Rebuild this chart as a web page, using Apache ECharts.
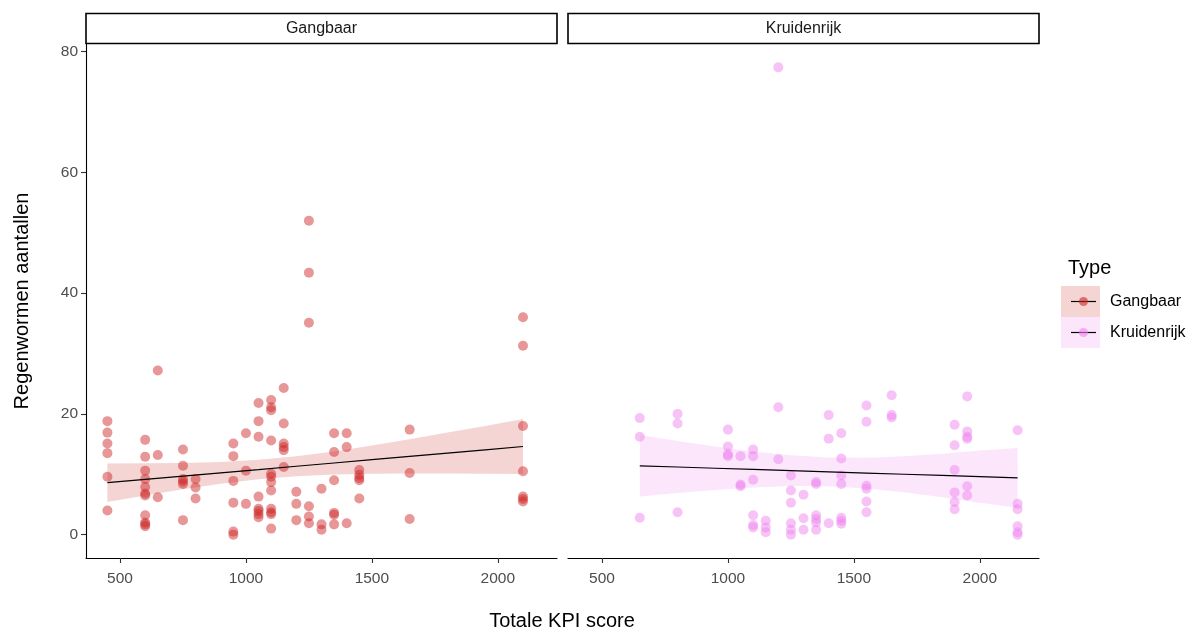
<!DOCTYPE html>
<html>
<head>
<meta charset="utf-8">
<script src="https://cdn.jsdelivr.net/npm/echarts@6/dist/echarts.min.js"></script>
<style>html,body{margin:0;padding:0;background:#fff}#c{width:1196px;height:633px}</style>
</head>
<body>
<div id="c"></div>
<script>
// ---- data ----
const xTicks = [500, 1000, 1500, 2000];
const yTicks = [0, 20, 40, 60, 80];
const panels = ['Gangbaar', 'Kruidenrijk'];

const gangbaarKPI = [450, 600, 650, 750, 800, 950, 1000, 1050, 1100, 1150, 1200, 1250, 1300, 1350, 1400, 1450, 1650, 2100];
const gangbaarCounts = [
  [18.8, 16.9, 15.1, 13.5, 9.6, 4.0],
  [15.7, 12.9, 10.6, 9.2, 7.9, 6.8, 6.5, 3.2, 2.0, 1.7, 1.4],
  [27.2, 13.2, 6.2],
  [14.1, 11.4, 9.2, 8.8, 8.4, 2.4],
  [9.2, 7.8, 6.0],
  [15.1, 13.0, 8.9, 5.3, 0.5, 0.0],
  [16.8, 10.6, 5.1],
  [21.8, 18.8, 16.2, 6.3, 4.3, 3.9, 3.4, 2.9],
  [22.3, 21.1, 20.6, 15.6, 10.1, 9.6, 8.7, 7.3, 4.3, 3.7, 3.4, 1.0],
  [24.3, 18.4, 15.1, 14.5, 14.0, 11.2],
  [7.1, 5.1, 2.4],
  [52.0, 43.4, 35.1, 4.7, 3.0, 1.9],
  [7.6, 1.7, 0.8],
  [16.8, 13.7, 9.0, 3.6, 3.3, 1.7],
  [16.8, 14.5, 1.9],
  [10.7, 9.9, 9.4, 9.0, 6.0],
  [17.4, 10.2, 2.6],
  [36.0, 31.3, 18.0, 10.5, 6.3, 5.9, 5.5]
];

const kruidenrijkKPI = [650, 800, 1000, 1050, 1100, 1150, 1200, 1250, 1300, 1350, 1400, 1450, 1550, 1650, 1900, 1950, 2150];
const kruidenrijkCounts = [
  [19.3, 16.2, 2.8],
  [20.0, 18.4, 3.7],
  [17.4, 14.6, 13.3, 13.0],
  [13.0, 8.3, 8.0],
  [14.1, 13.0, 9.1, 3.2, 1.6, 1.2],
  [2.3, 1.2, 0.4],
  [77.4, 21.1, 12.5],
  [9.8, 7.3, 5.3, 1.9, 0.8, 0.0],
  [6.6, 2.7, 0.8],
  [8.7, 8.4, 3.2, 2.6, 2.0, 0.8],
  [19.8, 15.9, 1.9],
  [16.8, 12.6, 9.8, 8.4, 2.8, 2.3, 1.8],
  [21.4, 18.7, 8.1, 7.6, 5.5, 3.7],
  [23.1, 19.8, 19.4],
  [18.2, 14.8, 10.7, 7.0, 5.4, 4.2],
  [22.9, 17.1, 16.2, 15.9, 8.0, 6.5],
  [17.3, 5.1, 4.2, 1.4, 0.4, 0.0]
];

// linear fit and confidence band
const gangbaarFitX  = [450, 600, 750, 900, 1050, 1200, 1350, 1500, 1650, 1800, 1950, 2100];
const gangbaarFit   = [8.6, 9.15, 9.69, 10.24, 10.78, 11.33, 11.87, 12.42, 12.96, 13.51, 14.05, 14.6];
const gangbaarLower = [5.4, 6.48, 7.5, 8.43, 9.17, 9.67, 9.95, 10.08, 10.12, 10.12, 10.09, 10.05];
const gangbaarUpper = [11.8, 11.82, 11.88, 12.05, 12.39, 12.99, 13.79, 14.76, 15.8, 16.9, 18.01, 19.15];

const kruidenrijkFitX  = [650, 800, 950, 1100, 1250, 1400, 1550, 1700, 1850, 2000, 2150];
const kruidenrijkFit   = [11.4, 11.2, 11.0, 10.8, 10.6, 10.4, 10.2, 10.0, 9.8, 9.6, 9.4];
const kruidenrijkLower = [6.3, 6.88, 7.39, 7.81, 8.05, 8.01, 7.65, 7.01, 6.19, 5.28, 4.45];
const kruidenrijkUpper = [16.5, 15.52, 14.61, 13.79, 13.15, 12.79, 12.75, 12.99, 13.41, 13.92, 14.35];

// ---- styling ----
const FONT = "'Liberation Sans', Arial, sans-serif";
const colors = {
  Gangbaar:   {pt: 'rgba(205,38,38,0.6)',  band: 'rgba(205,38,38,0.2)'},
  Kruidenrijk:{pt: 'rgba(238,130,238,0.6)', band: 'rgba(238,130,238,0.2)'}
};
const X_MIN = 365, X_MAX = 2235, Y_MIN = -3.87, Y_MAX = 81.27;
const G = [{left: 86, top: 44, width: 471, height: 514}, {left: 568, top: 44, width: 471, height: 514}];

function pts(xs, ys) {
  const out = [];
  xs.forEach((x, i) => ys[i].forEach(v => out.push([x, v])));
  return out;
}
function pairs(xs, ys) { return xs.map((x, i) => [x, ys[i]]); }

const groups = [
  {name: 'Gangbaar', kpi: gangbaarKPI, counts: gangbaarCounts, fx: gangbaarFitX, fit: gangbaarFit, lo: gangbaarLower, hi: gangbaarUpper},
  {name: 'Kruidenrijk', kpi: kruidenrijkKPI, counts: kruidenrijkCounts, fx: kruidenrijkFitX, fit: kruidenrijkFit, lo: kruidenrijkLower, hi: kruidenrijkUpper}
];

const series = [];
groups.forEach((g, i) => {
  const c = colors[g.name];
  // confidence band as a polygon through the axis scales
  series.push({
    type: 'custom', xAxisIndex: i, yAxisIndex: i, silent: true, z: 1,
    data: [[g.fx[0], g.lo[0]]],
    renderItem: function (params, api) {
      const top = g.fx.map((x, k) => api.coord([x, g.hi[k]]));
      const bot = g.fx.map((x, k) => api.coord([x, g.lo[k]])).reverse();
      return {type: 'polygon', shape: {points: top.concat(bot)}, style: {fill: c.band, stroke: null}};
    }
  });
  series.push({
    type: 'scatter', xAxisIndex: i, yAxisIndex: i, name: g.name,
    data: pts(g.kpi, g.counts), symbolSize: 10,
    itemStyle: {color: c.pt, borderWidth: 0}, z: 2
  });
  series.push({
    type: 'line', xAxisIndex: i, yAxisIndex: i, silent: true,
    data: pairs(g.fx, g.fit), symbol: 'none',
    lineStyle: {color: '#000', width: 1.2}, z: 3
  });
});

const xAxes = [0, 1].map(i => ({
  type: 'value', gridIndex: i, min: X_MIN, max: X_MAX,
  axisLine: {show: true, onZero: false, lineStyle: {color: '#000', width: 1.1}},
  axisTick: {show: true, length: 5, customValues: xTicks, lineStyle: {color: '#333', width: 1.1}},
  axisLabel: {customValues: xTicks, formatter: v => String(v), color: '#4d4d4d', fontSize: 15.5, fontFamily: FONT, margin: 13},
  splitLine: {show: false}
}));
const yAxes = [0, 1].map(i => ({
  type: 'value', gridIndex: i, min: Y_MIN, max: Y_MAX,
  axisLine: {show: i === 0, onZero: false, lineStyle: {color: '#000', width: 1.1}},
  axisTick: {show: i === 0, length: 5, customValues: yTicks, lineStyle: {color: '#333', width: 1.1}},
  axisLabel: {show: i === 0, customValues: yTicks, formatter: v => String(v), color: '#4d4d4d', fontSize: 15.5, fontFamily: FONT, margin: 8},
  splitLine: {show: false}
}));

const graphic = [];
G.forEach((g, i) => {
  graphic.push({type: 'rect', shape: {x: g.left, y: 13.5, width: g.width, height: 30},
    style: {fill: '#fff', stroke: '#000', lineWidth: 1.6}, z: 10});
  graphic.push({type: 'text', x: g.left + g.width / 2, y: 29,
    style: {text: panels[i], font: "16px " + FONT, fill: '#1a1a1a', textAlign: 'center', textVerticalAlign: 'middle'}, z: 11});
});
graphic.push({type: 'text', x: 562, y: 621,
  style: {text: 'Totale KPI score', font: "20px " + FONT, fill: '#000', textAlign: 'center', textVerticalAlign: 'middle'}});
graphic.push({type: 'text', x: 22, y: 301, rotation: Math.PI / 2,
  style: {text: 'Regenwormen aantallen', font: "20px " + FONT, fill: '#000', textAlign: 'center', textVerticalAlign: 'middle'}});
graphic.push({type: 'text', x: 1068, y: 268,
  style: {text: 'Type', font: "20px " + FONT, fill: '#000', textAlign: 'left', textVerticalAlign: 'middle'}});
panels.forEach((p, i) => {
  const y0 = 286 + i * 31;
  graphic.push({type: 'rect', shape: {x: 1061, y: y0, width: 39, height: 31}, style: {fill: colors[p].band}});
  graphic.push({type: 'line', shape: {x1: 1071, y1: y0 + 15.5, x2: 1096, y2: y0 + 15.5}, style: {stroke: '#000', lineWidth: 1.2}});
  graphic.push({type: 'circle', shape: {cx: 1083.5, cy: y0 + 15.5, r: 4.5}, style: {fill: colors[p].pt}});
  graphic.push({type: 'text', x: 1110, y: y0 + 16,
    style: {text: p, font: "16px " + FONT, fill: '#000', textAlign: 'left', textVerticalAlign: 'middle'}});
});

const chart = echarts.init(document.getElementById('c'), null, {renderer: 'canvas'});
chart.setOption({
  backgroundColor: '#fff',
  animation: false,
  grid: G,
  xAxis: xAxes,
  yAxis: yAxes,
  series: series,
  graphic: graphic
});
</script>
</body>
</html>
